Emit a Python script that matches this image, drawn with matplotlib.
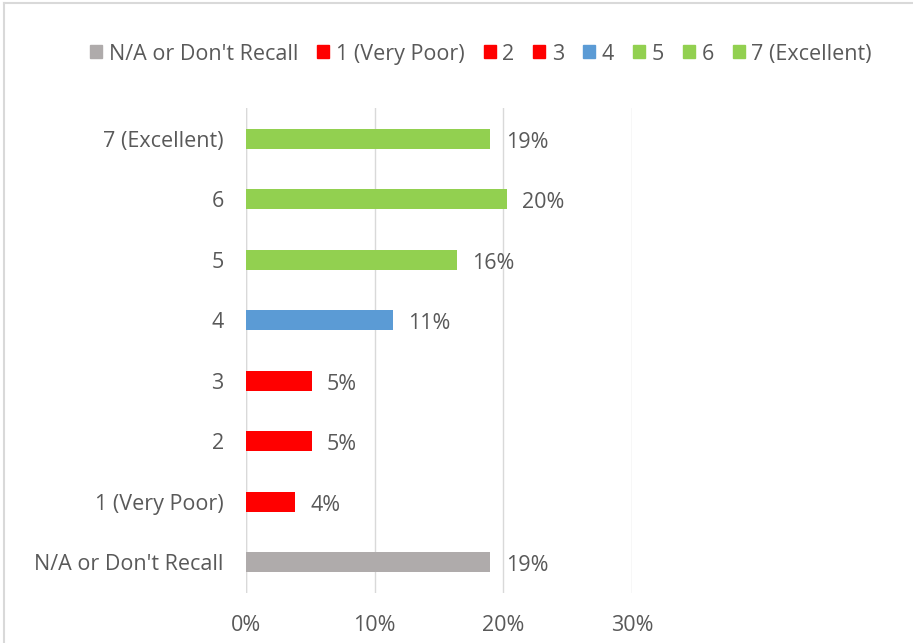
import matplotlib.pyplot as plt
from matplotlib.patches import Patch
from matplotlib.lines import Line2D

categories = ["N/A or Don't Recall", "1 (Very Poor)", "2", "3", "4", "5", "6", "7 (Excellent)"]
values = [0.19, 0.038, 0.051, 0.051, 0.114, 0.164, 0.203, 0.19]
labels = ["19%", "4%", "5%", "5%", "11%", "16%", "20%", "19%"]
colors = ["#AFABAB", "#FF0000", "#FF0000", "#FF0000", "#5B9BD5", "#92D050", "#92D050", "#92D050"]
ticks = [0, 0.1, 0.2, 0.3]

plt.rcParams["font.family"] = ["Open Sans", "DejaVu Sans"]
txt = "#595959"
fs = 15.5

fig = plt.figure(figsize=(9.13, 6.43), dpi=100)
ax = fig.add_axes([0.2694, 0.0785, 0.4228, 0.7528])

y = list(range(len(categories)))
ax.barh(y, values, height=0.33, color=colors, zorder=3)
for yi, v, lab in zip(y, values, labels):
    ax.annotate(lab, (v, yi), xytext=(11, -2.5), textcoords="offset points",
                va="center", ha="left", fontsize=fs, color=txt)

ax.set_xlim(0, 0.3)
ax.set_ylim(-0.5, len(categories) - 0.5)
ax.set_xticks(ticks)
ax.set_xticklabels([f"{int(t*100)}%" for t in ticks])
ax.set_yticks(y)
ax.set_yticklabels(categories)
ax.tick_params(length=0, labelsize=fs, colors=txt)
ax.tick_params(axis="x", pad=16)
ax.tick_params(axis="y", pad=16)
ax.grid(axis="x", color="#D9D9D9", linewidth=1, zorder=0)
for s in ax.spines.values():
    s.set_visible(False)
ax.axvline(0, color="#D9D9D9", linewidth=1, zorder=0)

handles = [Patch(color=c) for c in colors]
fig.legend(handles, categories, loc="center", bbox_to_anchor=(0.527, 0.916), ncol=8,
           frameon=False, fontsize=fs, labelcolor=txt, handlelength=0.55, handleheight=0.55,
           handletextpad=0.3, columnspacing=0.9)

# chart border (top and left visible)
fig.add_artist(Line2D([0.004, 1], [0.995, 0.995], color="#D9D9D9", linewidth=1.5))
fig.add_artist(Line2D([0.004, 0.004], [0, 0.995], color="#D9D9D9", linewidth=1.5))

fig.savefig("out.png", dpi=100)
